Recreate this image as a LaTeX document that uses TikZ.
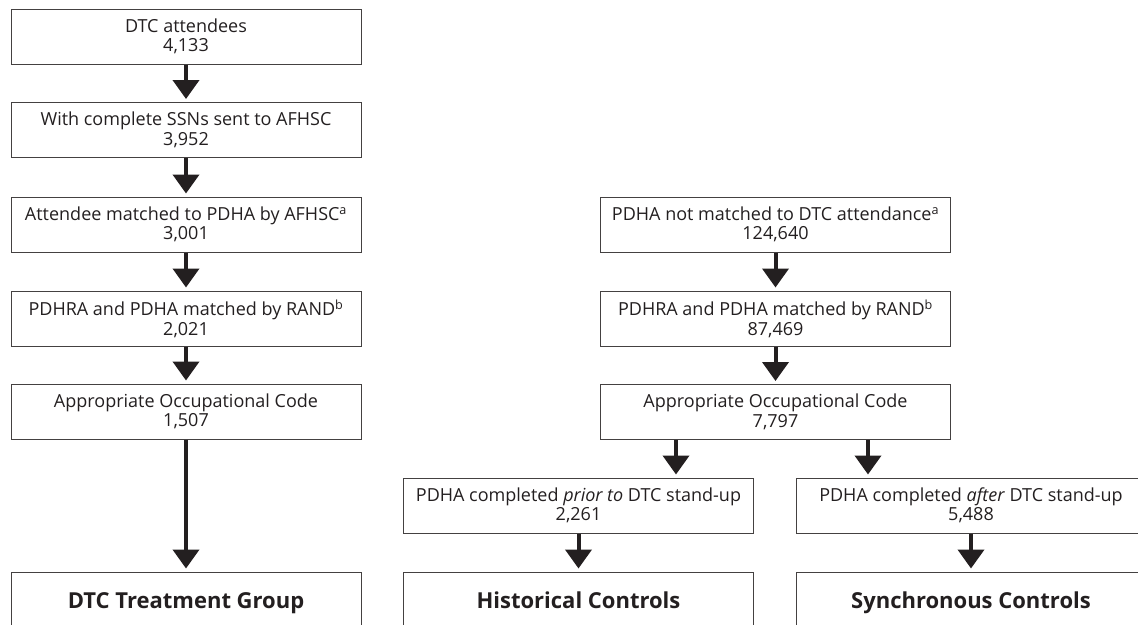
\documentclass[tikz,border=0pt]{standalone}
\usepackage{fontspec}
\setmainfont{Open Sans}
\usetikzlibrary{arrows.meta}
\definecolor{ink}{HTML}{231F20}
\begin{document}
\begin{tikzpicture}[x=1pt,y=-1pt,
  box/.style={draw=ink!85,line width=1pt,minimum width=350pt,minimum height=55pt,inner sep=0pt,align=center,text=ink,font=\fontsize{18}{19.5}\selectfont},
  big/.style={box,minimum height=62pt,text height=16pt,text depth=5pt,font=\bfseries\fontsize{22}{24}\selectfont},
  arr/.style={draw=ink,line width=4pt,-{Triangle[width=26pt,length=19pt]},shorten >=3pt}]
\useasboundingbox (0,0) rectangle (1138,624);
\begin{scope}
\clip (0,0) rectangle (1138,624);
% left column
\node[box] (l1) at (186,36.5) {DTC attendees\\4,133};
\node[box] (l2) at (186,130) {With complete SSNs sent to AFHSC\\3,952};
\node[box] (l3) at (186,224.5) {Attendee matched to PDHA by AFHSC\textsuperscript{a}\\3,001};
\node[box] (l4) at (186,318.5) {PDHRA and PDHA matched by RAND\textsuperscript{b}\\2,021};
\node[box] (l5) at (186,411.5) {Appropriate Occupational Code\\1,507};
\node[big] (dtc) at (186,603) {DTC Treatment Group};
% middle column
\node[box] (m1) at (775.5,224.5) {PDHA not matched to DTC attendance\textsuperscript{a}\\124,640};
\node[box] (m2) at (775.5,318.5) {PDHRA and PDHA matched by RAND\textsuperscript{b}\\87,469};
\node[box] (m3) at (775.5,412) {Appropriate Occupational Code\\7,797};
\node[box] (pr) at (578.5,505.5) {PDHA completed \emph{prior to} DTC stand-up\\2,261};
\node[box] (af) at (971,505.5) {PDHA completed \emph{after} DTC stand-up\\5,488};
\node[big] (hc) at (578.5,603) {Historical Controls};
\node[big] (sc) at (971,603) {Synchronous Controls};
% arrows
\draw[arr] (l1) -- (l2);
\draw[arr] (l2) -- (l3);
\draw[arr] (l3) -- (l4);
\draw[arr] (l4) -- (l5);
\draw[arr] (l5) -- (dtc);
\draw[arr] (m1) -- (m2);
\draw[arr] (m2) -- (m3);
\coordinate (s1) at ([xshift=-99.5pt]m3.south);
\coordinate (s2) at ([xshift=92.5pt]m3.south);
\draw[arr] (s1) -- (s1 |- pr.north);
\draw[arr] (s2) -- (s2 |- af.north);
\draw[arr] (pr) -- (hc);
\draw[arr] (af) -- (sc);
\end{scope}
\end{tikzpicture}
\end{document}
